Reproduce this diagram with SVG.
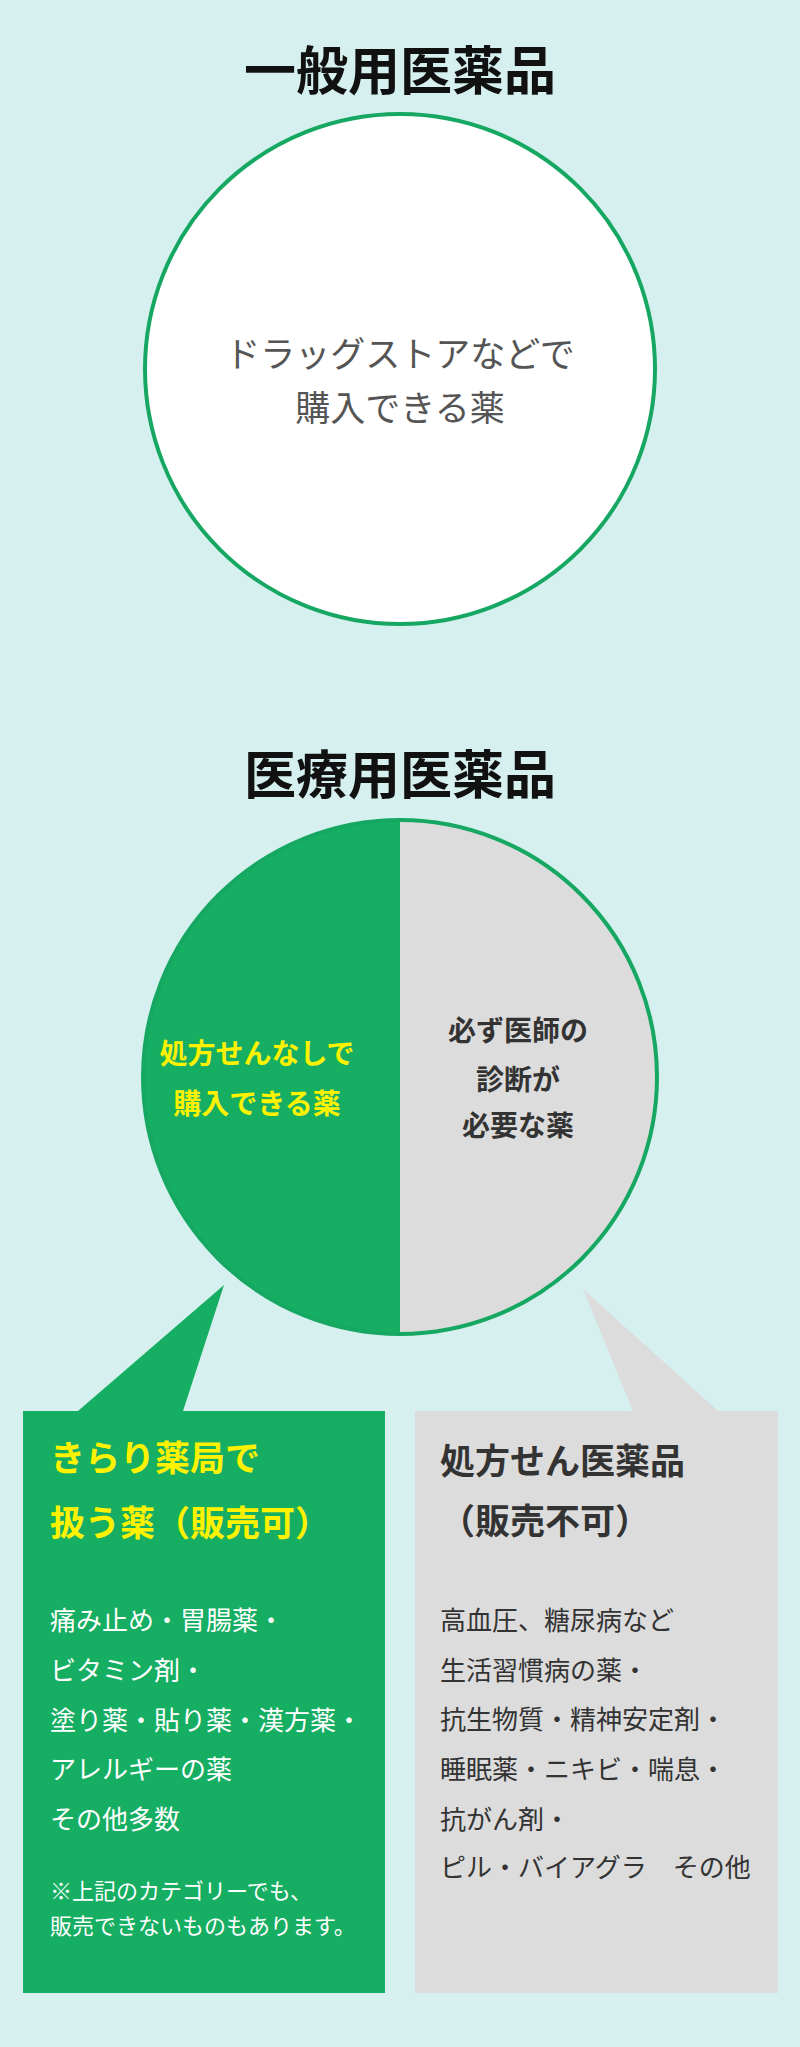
<svg xmlns="http://www.w3.org/2000/svg" width="800" height="2047" viewBox="0 0 800 2047">
<style>
text{font-family:"Noto Sans CJK JP","Noto Sans",sans-serif}
.t{font-size:52px;font-weight:bold;fill:#111;text-anchor:middle}
.c{font-size:35px;fill:#555;text-anchor:middle}
.y{font-size:28px;font-weight:bold;fill:#fff200;text-anchor:middle}
.g{font-size:28px;font-weight:bold;fill:#333;text-anchor:middle}
.h{font-size:35px;font-weight:bold}
.l{font-size:26px}
.n{font-size:22px;fill:#fff}
</style>
<rect width="800" height="2047" fill="#d5f0ef"/>
<g id="title1"><text class="t" x="400" y="90">一般用医薬品</text></g>
<g id="circle1">
<circle cx="400" cy="369" r="255" fill="#fff" stroke="#16a862" stroke-width="4"/>
<text class="c" x="400" y="367">ドラッグストアなどで</text>
<text class="c" x="400" y="421">購入できる薬</text>
</g>
<g id="title2"><text class="t" x="400" y="794">医療用医薬品</text></g>
<g id="connectors">
<polygon points="224,1285 78,1411 183,1411" fill="#16ae62"/>
<polygon points="583,1289 633,1411 718,1411" fill="#dcdcdc"/>
</g>
<g id="circle2">
<path d="M400,820 A257,257 0 0 0 400,1334 Z" fill="#16ae62"/>
<path d="M400,820 A257,257 0 0 1 400,1334 Z" fill="#dcdcdc"/>
<circle cx="400" cy="1077" r="257" fill="none" stroke="#16a862" stroke-width="4"/>
<text class="y" x="257" y="1064">処方せんなしで</text>
<text class="y" x="257" y="1114">購入できる薬</text>
<text class="g" x="518" y="1041">必ず医師の</text>
<text class="g" x="518" y="1090">診断が</text>
<text class="g" x="518" y="1136">必要な薬</text>
</g>
<g id="box-green">
<rect x="23" y="1411" width="362" height="582" fill="#16ae62"/>
<text class="h" x="50" y="1471" fill="#fff200">きらり薬局で</text>
<text class="h" x="50" y="1536" fill="#fff200">扱う薬（販売可）</text>
<g class="l" fill="#fff">
<text x="50" y="1630">痛み止め・胃腸薬・</text>
<text x="50" y="1680">ビタミン剤・</text>
<text x="50" y="1730">塗り薬・貼り薬・漢方薬・</text>
<text x="50" y="1779">アレルギーの薬</text>
<text x="50" y="1829">その他多数</text>
</g>
<text class="n" x="50" y="1899">※上記のカテゴリーでも、</text>
<text class="n" x="50" y="1934">販売できないものもあります。</text>
</g>
<g id="box-gray">
<rect x="415" y="1411" width="363" height="582" fill="#dcdcdc"/>
<text class="h" x="440" y="1474" fill="#333">処方せん医薬品</text>
<text class="h" x="440" y="1534" fill="#333">（販売不可）</text>
<g class="l" fill="#333">
<text x="440" y="1630">高血圧、糖尿病など</text>
<text x="440" y="1680">生活習慣病の薬・</text>
<text x="440" y="1729">抗生物質・精神安定剤・</text>
<text x="440" y="1779">睡眠薬・ニキビ・喘息・</text>
<text x="440" y="1829">抗がん剤・</text>
<text x="440" y="1877">ピル・バイアグラ　その他</text>
</g>
</g>
</svg>
